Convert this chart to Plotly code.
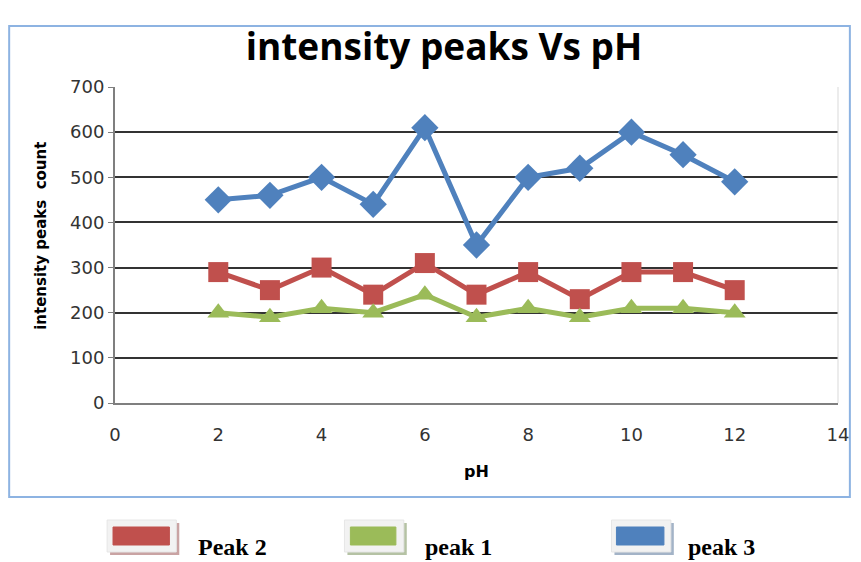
import plotly.graph_objects as go

ph = [2, 3, 4, 5, 6, 7, 8, 9, 10, 11, 12]
peak3 = [450, 460, 500, 440, 610, 350, 500, 520, 600, 550, 490]
peak2 = [290, 250, 300, 240, 310, 240, 290, 230, 290, 290, 250]
peak1 = [200, 190, 210, 200, 240, 190, 210, 190, 210, 210, 200]
x_ticks = [0, 2, 4, 6, 8, 10, 12, 14]
y_ticks = [0, 100, 200, 300, 400, 500, 600, 700]

BLUE = "#4F81BD"
RED = "#C0504D"
GREEN = "#9BBB59"

W, H = 861, 562
L, R, T, B = 115, 846, 87, 403


def px2x(px):
    return (px - L) / (R - L)


def py2y(py):
    return (B - py) / (B - T)


fig = go.Figure()
fig.add_trace(go.Scatter(x=ph, y=peak3, mode="lines+markers", name="peak 3",
                         line=dict(color=BLUE, width=5),
                         marker=dict(symbol="diamond", size=21, color=BLUE),
                         showlegend=False))
fig.add_trace(go.Scatter(x=ph, y=peak2, mode="lines+markers", name="Peak 2",
                         line=dict(color=RED, width=5),
                         marker=dict(symbol="square", size=20, color=RED),
                         showlegend=False))
fig.add_trace(go.Scatter(x=ph, y=peak1, mode="lines+markers", name="peak 1",
                         line=dict(color=GREEN, width=5),
                         marker=dict(symbol="triangle-up", size=19, color=GREEN),
                         showlegend=False))

shapes = []
# outer chart border
shapes.append(dict(type="rect", xref="paper", yref="paper",
                   x0=px2x(8), x1=px2x(858), y0=py2y(497), y1=py2y(26),
                   line=dict(color="#8DB3E2", width=2), layer="below"))
# right plot border
shapes.append(dict(type="line", xref="paper", yref="paper",
                   x0=1, x1=1, y0=0, y1=1,
                   line=dict(color="#d9d9d9", width=1)))

annotations = []
legend_items = [
    ("Peak 2", RED, "#c9a3a3", 107, 177, 113, 170, 197),
    ("peak 1", GREEN, "#b5c2a4", 347, 407, 353, 399, 426),
    ("peak 3", BLUE, "#a3b3c7", 617, 677, 622, 670, 692),
]
for name, col, shadow, ox0, ox1, ix0, ix1, tx in legend_items:
    shapes.append(dict(type="rect", xref="paper", yref="paper",
                       x0=px2x(ox0 + 3), x1=px2x(ox1 + 3), y0=py2y(555), y1=py2y(523),
                       fillcolor=shadow, line=dict(width=0)))
    shapes.append(dict(type="rect", xref="paper", yref="paper",
                       x0=px2x(ox0), x1=px2x(ox1), y0=py2y(552), y1=py2y(520),
                       fillcolor="#f2f2f2", line=dict(color="#e6e6e6", width=1)))
    shapes.append(dict(type="rect", xref="paper", yref="paper",
                       x0=px2x(ix0), x1=px2x(ix1), y0=py2y(545), y1=py2y(527),
                       fillcolor=col, line=dict(color=col, width=1)))
    annotations.append(dict(text="<b>%s</b>" % name, xref="paper", yref="paper",
                            x=px2x(tx), y=py2y(547), xanchor="left", yanchor="middle",
                            showarrow=False,
                            font=dict(family="Liberation Serif", size=24, color="#000")))

annotations.append(dict(text="<b>intensity peaks  count</b>", xref="paper", yref="paper",
                        x=px2x(40), y=py2y(236), textangle=-90, showarrow=False,
                        xanchor="center", yanchor="middle",
                        font=dict(family="DejaVu Sans", size=15, color="#000")))
annotations.append(dict(text="<b>pH</b>", xref="paper", yref="paper",
                        x=px2x(481), y=py2y(471), showarrow=False,
                        xanchor="center", yanchor="middle",
                        font=dict(family="DejaVu Sans", size=16, color="#000")))

fig.update_layout(
    width=W, height=H,
    margin=dict(l=L, r=W - R, t=T, b=H - B),
    paper_bgcolor="white", plot_bgcolor="white",
    title=dict(text="<b>intensity peaks Vs pH</b>", x=444 / W, xanchor="center",
               y=1 - 47 / H, yanchor="middle",
               font=dict(family="Open Sans", size=37, color="#000")),
    shapes=shapes,
    annotations=annotations,
    showlegend=False,
)
fig.update_xaxes(range=[0, 14], tickvals=x_ticks, showgrid=False, zeroline=False,
                 showline=True, linecolor="#7f7f7f", linewidth=2,
                 ticks="outside", ticklen=14, tickcolor="rgba(0,0,0,0)",
                 tickfont=dict(family="DejaVu Sans", size=18, color="#333"))
fig.update_yaxes(range=[0, 700], tickvals=y_ticks, showgrid=True,
                 gridcolor="#333", gridwidth=1.5, zeroline=False,
                 showline=True, linecolor="#7f7f7f", linewidth=2,
                 ticks="outside", ticklen=5, tickcolor="#7f7f7f",
                 tickfont=dict(family="DejaVu Sans", size=18, color="#333"))

fig.write_html("out.html", config={"displayModeBar": False},
               post_script="document.body.style.margin='0px';")
